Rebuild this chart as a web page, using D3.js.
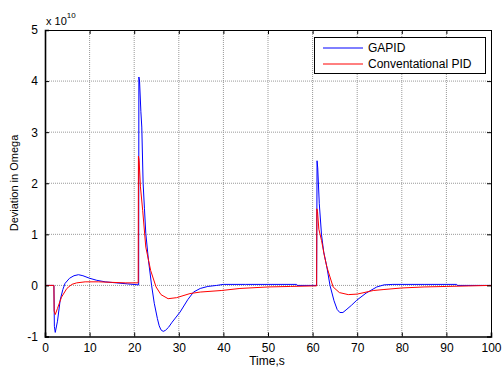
<!DOCTYPE html>
<html><head><meta charset="utf-8">
<script src="https://cdn.jsdelivr.net/npm/d3@7"></script>
<style>body{margin:0;background:#fff}svg{display:block}text{font-family:"Liberation Sans",Arial,sans-serif;fill:#000}</style>
</head><body>
<svg id="c" width="502" height="367"></svg>
<script>
const xTicks = [0,10,20,30,40,50,60,70,80,90,100];
const yTicks = [-1,0,1,2,3,4,5];
const seriesNames = ["GAPID","Conventational PID"];
const seriesColors = ["#0000ff","#ff0000"];
const gapidT = [0,2.0,2.1,2.3,2.8,3.4,4.0,4.5,5.5,6.5,7.5,8.5,10,11.6,13.5,16,18.5,21.0,21.05,21.2,21.5,21.7,22.0,22.3,22.6,23.2,23.9,24.5,25.2,25.6,26.0,26.5,27,27.7,28.5,30.3,32,33.3,34.8,36.5,38.5,40,45,50,56.4,56.5,60.9,61.0,61.15,61.5,62.0,62.5,63.2,63.9,64.8,65.5,66.1,66.8,67.5,68.7,69.9,72,74.4,76,78,85,92.3,92.4,100];
const gapidV = [0,0,-0.8,-0.92,-0.7,-0.29,-0.08,0.04,0.14,0.19,0.21,0.19,0.14,0.10,0.07,0.05,0.03,0.01,4.08,4.0,3.4,3.1,2.0,1.5,1.02,0.49,0,-0.35,-0.65,-0.79,-0.87,-0.9,-0.88,-0.82,-0.72,-0.52,-0.28,-0.13,-0.06,-0.02,0.0,0.02,0.02,0.02,0.02,0,0,2.44,2.3,1.6,0.99,0.65,0.36,0,-0.3,-0.47,-0.53,-0.53,-0.48,-0.39,-0.29,-0.15,-0.03,0.01,0.02,0.02,0.02,0,0];
const pidT = [0,2.0,2.05,2.3,2.8,3.7,4.9,6,7.1,9,12,15,18,20.9,20.95,21.1,21.4,21.9,22.6,23.7,24.9,26,27.6,29.5,32.5,34.8,39.5,43.7,50,55,60,60.9,60.95,61.1,61.4,62.0,62.6,63.2,64.6,66,68,70,73.6,76,80,85,90,95,100];
const pidV = [0,0,-0.5,-0.57,-0.45,-0.23,-0.06,0.02,0.05,0.07,0.07,0.06,0.05,0.05,2.53,2.45,1.93,1.47,0.75,0.29,-0.03,-0.18,-0.26,-0.24,-0.16,-0.13,-0.1,-0.06,-0.03,-0.02,-0.01,-0.01,1.5,1.45,1.1,0.88,0.6,0.36,-0.03,-0.14,-0.18,-0.17,-0.1,-0.08,-0.05,-0.03,-0.02,-0.01,0];

const svg = d3.select("#c");
const L=45, R=491, T=30, B=336.5;
const x = d3.scaleLinear().domain([0,100]).range([L,R]);
const y = d3.scaleLinear().domain([-1,5]).range([B,T]);

// grid
const g = svg.append("g");
g.selectAll(".gx").data(xTicks.slice(1,-1)).join("line")
 .attr("x1",d=>x(d)).attr("x2",d=>x(d)).attr("y1",T).attr("y2",B)
 .attr("stroke","#999").attr("stroke-width",1).attr("stroke-dasharray","1,1");
g.selectAll(".gy").data(yTicks.slice(1,-1)).join("line")
 .attr("x1",L).attr("x2",R).attr("y1",d=>y(d)).attr("y2",d=>y(d))
 .attr("stroke","#999").attr("stroke-width",1).attr("stroke-dasharray","1,1");

// lines
const line = d3.line().x(d=>x(d[0])).y(d=>y(d[1]));
const blue = gapidT.map((t,i)=>[t,gapidV[i]]);
const red = pidT.map((t,i)=>[t,pidV[i]]);
svg.append("path").attr("d",line(blue)).attr("fill","none").attr("stroke",seriesColors[0]).attr("stroke-width",1);
svg.append("path").attr("d",line(red)).attr("fill","none").attr("stroke",seriesColors[1]).attr("stroke-width",1);

// axes
const ax = svg.append("g").attr("transform",`translate(0,${B})`)
 .call(d3.axisBottom(x).tickValues(xTicks).tickSize(-4).tickPadding(7).tickFormat(d3.format("d")));
const ay = svg.append("g").attr("transform",`translate(${L},0)`)
 .call(d3.axisLeft(y).tickValues(yTicks).tickSize(-4).tickPadding(7).tickFormat(d=>d<0?"-"+Math.abs(d):String(d)));
const at = svg.append("g").attr("transform",`translate(0,${T})`)
 .call(d3.axisTop(x).tickValues(xTicks).tickSize(-4).tickFormat(""));
const ar = svg.append("g").attr("transform",`translate(${R},0)`)
 .call(d3.axisRight(y).tickValues(yTicks).tickSize(-4).tickFormat(""));
[ax,ay,at,ar].forEach(a=>{a.selectAll("path").attr("stroke","#000"); a.selectAll("line").attr("stroke","#000");
 a.selectAll("text").style("font-family","'Liberation Sans',Arial,sans-serif").style("font-size","12px").attr("fill","#000");});
ax.select("path").attr("stroke-width",1.6);
ay.select("path").attr("stroke-width",1.6);

// exponent
const ex = svg.append("text").attr("x",46).attr("y",25).style("font-size","11px");
ex.append("tspan").text("x 10");
ex.append("tspan").attr("dy",-7).style("font-size","8px").text("10");

// labels
svg.append("text").attr("x",267).attr("y",365).attr("text-anchor","middle").style("font-size","12px").text("Time,s");
svg.append("text").attr("transform","translate(18,183) rotate(-90)").attr("text-anchor","middle").style("font-size","11px").text("Deviation in Omega");

// legend
const lg = svg.append("g");
lg.append("rect").attr("x",314.5).attr("y",37.5).attr("width",171).attr("height",36).attr("fill","#fff").attr("stroke","#000");
seriesNames.forEach((n,i)=>{
 const yy = 48 + i*16;
 lg.append("line").attr("x1",323).attr("x2",363).attr("y1",yy).attr("y2",yy).attr("stroke",seriesColors[i]);
 lg.append("text").attr("x",368).attr("y",yy+4).style("font-size","12px").text(n);
});
</script>
</body></html>
